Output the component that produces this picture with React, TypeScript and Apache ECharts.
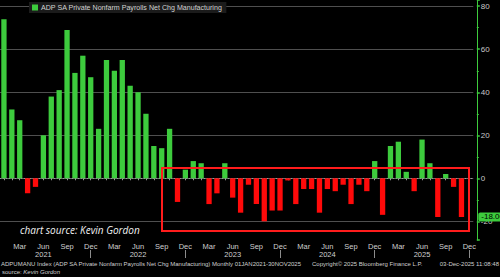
import React, { useEffect, useRef } from "react";
import * as echarts from "echarts";

const seriesName = "ADP SA Private Nonfarm Payrolls Net Chg Manufacturing";

const monthNames = ["Jan", "Feb", "Mar", "Apr", "May", "Jun", "Jul", "Aug", "Sep", "Oct", "Nov", "Dec"];
const years = [2021, 2022, 2023, 2024, 2025];

// Monthly categories, Jan 2021 through Dec 2025
const categories: string[] = years.flatMap((y) => monthNames.map((m) => `${m} ${y}`));

// Net change in manufacturing payrolls, thousands
const values2021 = [74, 32, 27, -7, -4, 20, 38, 41, 69, 49, 57, 47];
const values2022 = [23, 55, 50, 55, 43, 40, 30, 15, 14, 23, -11, 4];
const values2023 = [8, 7, -12, -7, 7, -9, -16, -3, -12, -20, -15, -15];
const values2024 = [-1, -12, -5, -5, -16, -5, -6, -3, -12, -3, -6, 8];
const values2025 = [-17, 15, 17, 3, -6, 18, 7, -18, 2, -4, -18];

const payrolls = [...values2021, ...values2022, ...values2023, ...values2024, ...values2025];

const yTicks = [-20, 0, 20, 40, 60, 80];
const quarterMonths = ["Mar", "Jun", "Sep", "Dec"];

const GREEN = "#3dcb3d";
const RED = "#ff0a0a";

export default function App() {
  const ref = useRef<HTMLDivElement>(null);

  useEffect(() => {
    const el = ref.current;
    if (!el) return;
    const chart = echarts.init(el, null, { renderer: "svg" });
    const last = payrolls[payrolls.length - 1];

    chart.setOption({
      animation: false,
      backgroundColor: "#000000",
      legend: {
        data: [seriesName],
        left: 29,
        top: 2,
        icon: "rect",
        itemWidth: 6,
        itemHeight: 6,
        itemGap: 4,
        padding: [2, 4, 2, 3],
        backgroundColor: "#1b1b1b",
        textStyle: { color: "#d2d2d2", fontSize: 7.1, fontFamily: "Liberation Sans", padding: [0, 0, 0, -2] },
      },
      grid: { left: -1.5, top: 0, width: 474.8, height: 240 },
      xAxis: [
        {
          type: "category",
          data: categories,
          axisLine: { show: true, lineStyle: { color: "#9a9a9a", type: [1, 2] } },
          axisTick: {
            show: true,
            interval: 0,
            alignWithLabel: true,
            length: 2,
            lineStyle: { color: "#9a9a9a" },
          },
          axisLabel: {
            interval: (_i: number, v: string) => quarterMonths.includes(v.slice(0, 3)),
            formatter: (v: string) => {
              const [m, y] = v.split(" ");
              return m === "Jun" ? `${m}\n${y}` : m;
            },
            color: "#cfcfcf",
            fontSize: 7.5,
            fontFamily: "Liberation Sans",
            lineHeight: 8.5,
            margin: 2,
          },
          splitLine: { show: false },
        },
        {
          type: "category",
          data: categories,
          position: "bottom",
          offset: 10,
          axisLine: { show: false },
          axisTick: {
            show: true,
            alignWithLabel: true,
            interval: (_i: number, v: string) => v.startsWith("Dec"),
            length: 8,
            lineStyle: { color: "#8c8c8c" },
          },
          axisLabel: { show: false },
          splitLine: { show: false },
        },
      ],
      yAxis: {
        type: "value",
        position: "right",
        offset: 3.5,
        min: -28.7,
        max: 82.9,
        splitNumber: 5,
        axisLine: { show: true, lineStyle: { color: GREEN } },
        axisTick: { show: true, length: 3, lineStyle: { color: GREEN, width: 1.5 } },
        minorTick: { show: true, splitNumber: 2, length: 2, lineStyle: { color: GREEN } },
        axisLabel: {
          color: "#c8c8c8",
          fontSize: 8,
          fontFamily: "Liberation Sans",
          margin: 4,
          showMinLabel: false,
          showMaxLabel: false,
          formatter: (v: number) => (yTicks.includes(v) ? String(v) : ""),
        },
        splitLine: { show: true, showMinLine: false, showMaxLine: false, lineStyle: { color: "#4f4f4f" } },
      },
      series: [
        {
          type: "bar",
          name: seriesName,
          xAxisIndex: 0,
          barWidth: 5.3,
          itemStyle: { color: GREEN },
          data: payrolls.map((v) => ({ value: v, itemStyle: { color: v < 0 ? RED : GREEN } })),
          markLine: {
            silent: true,
            symbol: "none",
            z: 20,
            lineStyle: { color: "rgba(0,0,0,0)", width: 0 },
            data: [{ yAxis: last }],
            label: {
              show: true,
              position: "end",
              distance: 5,
              formatter: last.toFixed(3),
              backgroundColor: GREEN,
              color: "#000000",
              opacity: 1,
              fontSize: 8,
              fontFamily: "Liberation Sans",
              padding: [1, 2, 0, 3],
              borderRadius: 2,
            },
          },
        },
      ],
      graphic: [
        {
          type: "rect",
          z: 10,
          shape: { x: 162, y: 168, width: 307, height: 63 },
          style: { fill: "none", stroke: "#ff1c1c", lineWidth: 2 },
        },
        {
          type: "text",
          z: 10,
          x: 20,
          y: 230,
          style: {
            text: "chart source: Kevin Gordon",
            fill: "#f2f2f2",
            fontSize: 10,
            fontStyle: "italic",
            fontFamily: "Open Sans",
            verticalAlign: "middle",
          },
        },
        {
          type: "text",
          x: 1,
          y: 264,
          style: {
            text: "ADPUMANU Index (ADP SA Private Nonfarm Payrolls Net Chg Manufacturing) Monthly 01JAN2021-30NOV2025",
            fill: "#d0d0d0",
            fontSize: 6,
            fontFamily: "Liberation Sans",
            verticalAlign: "middle",
          },
        },
        {
          type: "text",
          x: 312,
          y: 264,
          style: {
            text: "Copyright© 2025 Bloomberg Finance L.P.",
            fill: "#d0d0d0",
            fontSize: 6,
            fontFamily: "Liberation Sans",
            verticalAlign: "middle",
          },
        },
        {
          type: "text",
          x: 499,
          y: 264,
          style: {
            text: "03-Dec-2025 11:08:48",
            fill: "#d0d0d0",
            fontSize: 6,
            fontFamily: "Liberation Sans",
            align: "right",
            verticalAlign: "middle",
          },
        },
        {
          type: "text",
          x: 2,
          y: 271.5,
          style: {
            text: "{a|source:} {b|Kevin Gordon}",
            fill: "#d0d0d0",
            fontSize: 6,
            fontFamily: "Liberation Sans",
            verticalAlign: "middle",
            rich: {
              a: { fill: "#d0d0d0", fontSize: 6, fontFamily: "Liberation Sans" },
              b: { fill: "#d0d0d0", fontSize: 6, fontFamily: "Liberation Sans", fontStyle: "italic" },
            },
          },
        },
      ],
    });

    return () => chart.dispose();
  }, []);

  return (
    <div
      ref={ref}
      style={{ position: "fixed", left: 0, top: 0, width: 500, height: 277, background: "#000" }}
    />
  );
}
